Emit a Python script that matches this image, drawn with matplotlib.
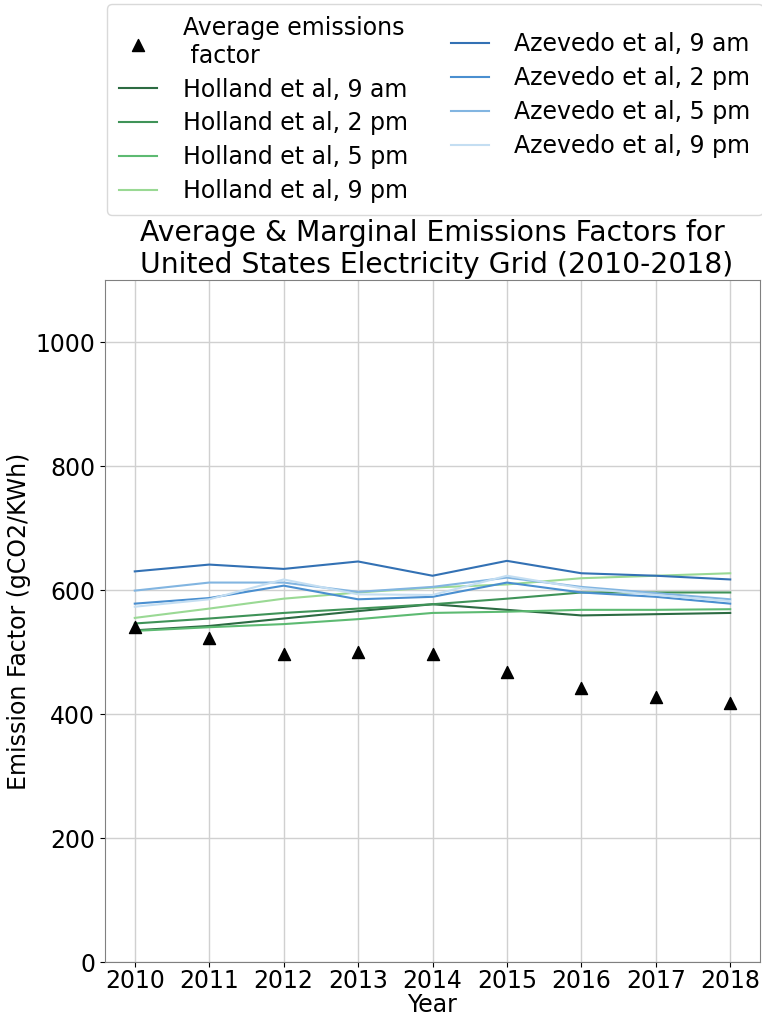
import matplotlib
matplotlib.use("Agg")
import matplotlib.pyplot as plt

years = [2010, 2011, 2012, 2013, 2014, 2015, 2016, 2017, 2018]
average_ef = [540, 522, 497, 500, 496, 468, 442, 428, 418]

holland_9am = [535, 542, 554, 566, 577, 568, 559, 561, 563]
holland_2pm = [546, 554, 563, 570, 577, 586, 596, 596, 596]
holland_5pm = [534, 540, 545, 553, 563, 565, 568, 568, 569]
holland_9pm = [555, 570, 586, 596, 604, 609, 619, 623, 627]

azevedo_9am = [630, 641, 634, 646, 623, 647, 627, 623, 617]
azevedo_2pm = [578, 587, 607, 585, 589, 612, 596, 589, 578]
azevedo_5pm = [599, 612, 612, 597, 605, 620, 605, 595, 585]
azevedo_9pm = [573, 585, 617, 593, 592, 623, 603, 592, 582]

labels_holland = ["Holland et al, 9 am", "Holland et al, 2 pm",
                  "Holland et al, 5 pm", "Holland et al, 9 pm"]
labels_azevedo = ["Azevedo et al, 9 am", "Azevedo et al, 2 pm",
                  "Azevedo et al, 5 pm", "Azevedo et al, 9 pm"]

greens = ["#2c6b42", "#3f9358", "#5dba72", "#9ad994"]
blues = ["#3371b4", "#4a8fd0", "#82b5e1", "#c4def2"]

fig = plt.figure(figsize=(7.62, 10.14), dpi=100)
ax = fig.add_axes([105/762, 1-962/1014, 655/762, 682/1014])

h_avg = ax.scatter(years, average_ef, marker="^", color="black", s=75,
                   label="Average emissions\n factor", zorder=3)
hh = []
for vals, c, lab in zip([holland_9am, holland_2pm, holland_5pm, holland_9pm], greens, labels_holland):
    l, = ax.plot(years, vals, color=c, lw=1.5, label=lab)
    hh.append(l)
ha = []
for vals, c, lab in zip([azevedo_9am, azevedo_2pm, azevedo_5pm, azevedo_9pm], blues, labels_azevedo):
    l, = ax.plot(years, vals, color=c, lw=1.5, label=lab)
    ha.append(l)

ax.set_ylim(0, 1100)
ax.set_xlim(2009.6, 2018.4)
ax.set_xticks(years)
ax.set_yticks([0, 200, 400, 600, 800, 1000])
ax.tick_params(labelsize=17)
ax.tick_params(axis="x", pad=1.5)
ax.grid(True, color="#d0d0d0", lw=1)
ax.set_axisbelow(True)
for s in ax.spines.values():
    s.set_color("#808080")
ax.set_xlabel("Year", fontsize=17, labelpad=0)
ax.set_ylabel("Emission Factor (gCO2/KWh)", fontsize=17, labelpad=3)
ax.set_title("Average & Marginal Emissions Factors for\n United States Electricity Grid (2010-2018)",
             fontsize=20.3, pad=5)

handles = [h_avg] + hh + ha
leg = fig.legend(handles=handles, loc="upper center", ncol=2, fontsize=17,
                 bbox_to_anchor=(435/762, 1-4/1014),
                 frameon=True, handlelength=1.6, labelspacing=0.42,
                 borderaxespad=0, columnspacing=1.8, handletextpad=1.1,
                 borderpad=0.5)
leg.get_frame().set_edgecolor("#d0d0d0")

fig.savefig("out.png", dpi=100)
